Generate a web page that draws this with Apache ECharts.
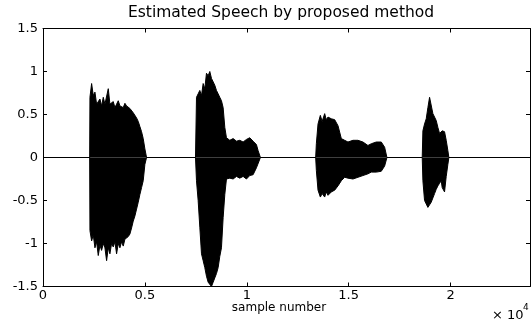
<!DOCTYPE html>
<html>
<head>
<meta charset="utf-8">
<script src="https://cdn.jsdelivr.net/npm/echarts@6/dist/echarts.min.js"></script>
<style>
html,body{margin:0;padding:0;background:#fff;}
#chart{width:532px;height:327px;}
</style>
</head>
<body>
<div id="chart"></div>
<script>
// ---- Values: sample index with waveform envelope max / min ----
const chartTitle = 'Estimated Speech by proposed method';
const xAxisName = 'sample number';
const xMax = 23900;
const yMin = -1.5, yMax = 1.5, yStep = 0.5;
const xTickLabels = ['0', '0.5', '1', '1.5', '2'];

// burst 1
const b1Idx = [2290, 2304, 2386, 2467, 2549, 2631, 2712, 2794, 2876, 2958, 3039, 3121, 3203, 3284, 3366, 3448, 3529, 3611,
  3693, 3775, 3856, 3938, 4020, 4101, 4183, 4265, 4346, 4428, 4510, 4592, 4673, 4755, 4837, 4918, 5000, 5082];
const b1Max = [0, 0.70, 0.86, 0.72, 0.76, 0.62, 0.64, 0.68, 0.60, 0.70, 0.62, 0.64, 0.80, 0.62, 0.60, 0.65, 0.58, 0.62,
  0.66, 0.60, 0.62, 0.58, 0.63, 0.60, 0.60, 0.57, 0.55, 0.52, 0.50, 0.46, 0.42, 0.36, 0.30, 0.22, 0.10, 0];
const b1Min = [0, -0.85, -0.97, -0.90, -1.05, -0.98, -1.14, -1.02, -1.08, -1.00, -1.05, -1.20, -1.05, -1.12, -1.00, -1.04, -0.98, -1.12,
  -1.00, -1.05, -0.98, -1.03, -0.95, -0.97, -0.92, -0.89, -0.82, -0.74, -0.68, -0.60, -0.52, -0.43, -0.35, -0.27, -0.08, 0];

// burst 2
const b2Idx = [7484, 7533, 7614, 7696, 7778, 7860, 7941, 8023, 8105, 8186, 8268, 8350, 8431, 8513, 8595, 8676, 8758, 8840,
  8922, 9003, 9167, 9330, 9494, 9657, 9820, 9984, 10147, 10311, 10474, 10556, 10670];
const b2Max = [0, 0.70, 0.74, 0.78, 0.72, 0.86, 0.80, 0.98, 0.95, 1.00, 0.92, 0.90, 0.84, 0.78, 0.74, 0.70, 0.66, 0.58,
  0.35, 0.23, 0.20, 0.22, 0.19, 0.20, 0.18, 0.21, 0.23, 0.19, 0.15, 0.08, 0];
const b2Min = [0, -0.27, -0.50, -0.81, -1.12, -1.20, -1.28, -1.38, -1.45, -1.47, -1.50, -1.45, -1.40, -1.35, -1.28, -1.15, -1.05, -0.70,
  -0.43, -0.25, -0.24, -0.25, -0.22, -0.24, -0.22, -0.25, -0.21, -0.20, -0.12, -0.10, 0];

// burst 3
const b3Idx = [13382, 13415, 13497, 13611, 13700, 13824, 13900, 13987, 14150, 14314, 14477, 14640, 14804, 14967, 15212, 15457,
  15702, 15947, 16111, 16356, 16601, 16765, 16879];
const b3Max = [0, 0.16, 0.39, 0.49, 0.42, 0.51, 0.44, 0.47, 0.45, 0.44, 0.37, 0.22, 0.20, 0.18, 0.20, 0.20,
  0.18, 0.14, 0.16, 0.18, 0.18, 0.12, 0];
const b3Min = [0, -0.15, -0.38, -0.46, -0.42, -0.46, -0.40, -0.44, -0.40, -0.38, -0.33, -0.27, -0.23, -0.24, -0.25, -0.23,
  -0.21, -0.19, -0.17, -0.17, -0.16, -0.10, 0];

// burst 4
const b4Idx = [18611, 18644, 18725, 18807, 18889, 18971, 19052, 19134, 19216, 19297, 19379, 19461, 19542, 19591, 19706, 19788, 19869, 19918];
const b4Max = [0, 0.31, 0.39, 0.45, 0.58, 0.70, 0.72, 0.51, 0.47, 0.43, 0.35, 0.28, 0.30, 0.31, 0.30, 0.20, 0.08, 0];
const b4Min = [0, -0.27, -0.50, -0.54, -0.58, -0.55, -0.52, -0.47, -0.42, -0.37, -0.33, -0.30, -0.27, -0.35, -0.40, -0.22, -0.08, 0];

const bursts = [[b1Idx, b1Max, b1Min], [b2Idx, b2Max, b2Min], [b3Idx, b3Max, b3Min], [b4Idx, b4Max, b4Min]];

function envelope(which) {
  const out = [[0, 0]];
  bursts.forEach(b => b[0].forEach((x, i) => out.push([x, b[which][i]])));
  out.push([xMax, 0]);
  return out;
}
const upperData = envelope(1);
const lowerData = envelope(2);

const FONT = '"DejaVu Sans", Arial, sans-serif';
const chart = echarts.init(document.getElementById('chart'), null, {renderer: 'canvas'});

const xLabelFmt = v => (v % 5000 === 0 && v / 5000 < xTickLabels.length) ? xTickLabels[v / 5000] : '';

const axisCommonX = {
  type: 'value', min: 0, max: xMax, interval: 5000,
  axisLine: {show: true, onZero: false, lineStyle: {color: '#000', width: 1}},
  axisTick: {show: true, inside: true, length: 4, lineStyle: {color: '#000'}},
  splitLine: {show: false}
};
const axisCommonY = {
  type: 'value', min: yMin, max: yMax, interval: yStep,
  axisLine: {show: true, onZero: false, lineStyle: {color: '#000', width: 1}},
  axisTick: {show: true, inside: true, length: 4, lineStyle: {color: '#000'}},
  splitLine: {show: false}
};

chart.setOption({
  animation: false,
  backgroundColor: '#fff',
  title: {
    text: chartTitle, left: 128, top: 5, padding: 0,
    textStyle: {fontFamily: FONT, fontSize: 15.5, fontWeight: 'normal', color: '#000'}
  },
  grid: {left: 43, right: 2, top: 28.5, bottom: 40.5, containLabel: false},
  xAxis: [
    Object.assign({}, axisCommonX, {
      position: 'bottom',
      name: xAxisName, nameLocation: 'middle', nameGap: 15, nameMoveOverlap: false,
      nameTextStyle: {fontFamily: FONT, fontSize: 12, color: '#000', padding: [0, 15, 0, 0]},
      axisLabel: {show: true, margin: 3, color: '#000', fontFamily: FONT, fontSize: 13, formatter: xLabelFmt,
                  showMaxLabel: false}
    }),
    Object.assign({}, axisCommonX, {position: 'top', axisLabel: {show: false}})
  ],
  yAxis: [
    Object.assign({}, axisCommonY, {
      position: 'left',
      axisLabel: {show: true, margin: 5, color: '#000', fontFamily: FONT, fontSize: 13}
    }),
    Object.assign({}, axisCommonY, {position: 'right', axisLabel: {show: false}})
  ],
  graphic: [
    {type: 'text', left: 492, top: 309, style: {text: '× 10', fill: '#000', font: '13px ' + FONT}},
    {type: 'text', left: 523, top: 303, style: {text: '4', fill: '#000', font: '9px ' + FONT}}
  ],
  series: [
    {
      type: 'line', data: upperData, symbol: 'none',
      lineStyle: {color: '#000', width: 1}, areaStyle: {color: '#000', opacity: 1, origin: 0}
    },
    {
      type: 'line', data: lowerData, symbol: 'none',
      lineStyle: {color: '#000', width: 1}, areaStyle: {color: '#000', opacity: 1, origin: 0}
    }
  ]
});
</script>
</body>
</html>
